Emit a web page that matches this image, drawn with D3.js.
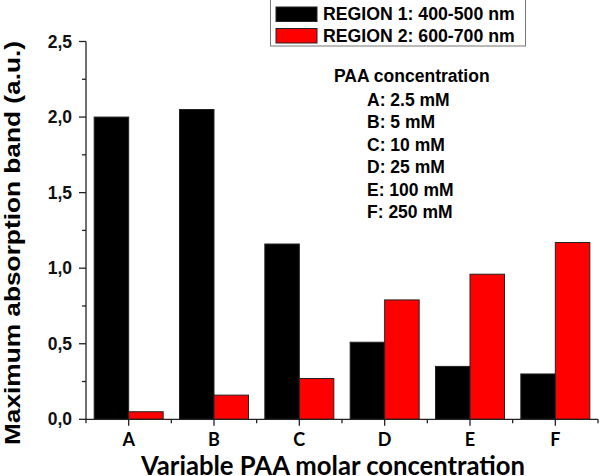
<!DOCTYPE html>
<html><head><meta charset="utf-8">
<script src="https://cdn.jsdelivr.net/npm/d3@7"></script>
<style>body{margin:0;background:#fff}svg{display:block}</style>
</head><body>
<svg id="c" width="600" height="476"></svg>
<script>
const categories = ["A","B","C","D","E","F"];
const seriesNames = ["REGION 1: 400-500 nm","REGION 2: 600-700 nm"];
const region1 = [2.00, 2.05, 1.16, 0.51, 0.35, 0.30];
const region2 = [0.05, 0.16, 0.27, 0.79, 0.96, 1.17];
const yTicks = [0, 0.5, 1.0, 1.5, 2.0, 2.5];
const yTickLabels = ["0,0","0,5","1,0","1,5","2,0","2,5"];
const infoTitle = "PAA concentration";
const infoLines = ["A: 2.5 mM","B: 5 mM","C: 10 mM","D: 25 mM","E: 100 mM","F: 250 mM"];
const colors = ["#000000","#ff0000"];

const svg = d3.select("#c");
const L = 86, R = 598, T = 41.5, B = 419.3;
const x = d3.scaleBand().domain(categories).range([L, R]).paddingInner(0).paddingOuter(0);
const y = d3.scaleLinear().domain([0, 2.5]).range([B, T]);
const step = x.bandwidth();
const groupW = 69;
const xs = d3.scaleBand().domain([0,1]).range([(step-groupW)/2, (step+groupW)/2]);

const data = categories.map((c,i)=>({c, v:[region1[i], region2[i]]}));

// bars
const g = svg.append("g");
data.forEach(d=>{
  d.v.forEach((v,k)=>{
    g.append("rect")
      .attr("x", x(d.c)+xs(k))
      .attr("y", y(v))
      .attr("width", xs.bandwidth())
      .attr("height", y(0)-y(v))
      .attr("fill", colors[k])
      .attr("stroke", "#222").attr("stroke-width", 1);
  });
});

const axCol = "#222";
// x axis
const xa = svg.append("g").attr("transform", `translate(0,${B})`);
xa.append("line").attr("x1", L).attr("x2", R).attr("stroke", axCol).attr("stroke-width", 1.3);
const bounds = categories.map(c=>x(c)).concat([R]);
bounds.forEach(b=>xa.append("line").attr("x1",b).attr("x2",b).attr("y1",0).attr("y2",4).attr("stroke",axCol).attr("stroke-width",1.3));
categories.forEach(c=>{
  const cx = x(c)+step/2;
  xa.append("line").attr("x1",cx).attr("x2",cx).attr("y1",0).attr("y2",6.5).attr("stroke",axCol).attr("stroke-width",1.3);
  xa.append("text").attr("x",cx).attr("y",27).attr("text-anchor","middle")
    .attr("font-family","Lato, 'Open Sans', sans-serif").attr("font-weight","bold").attr("font-size",18).text(c);
});

// y axis
const ya = svg.append("g").attr("transform", `translate(${L},0)`);
ya.append("line").attr("y1", T).attr("y2", B).attr("stroke", axCol).attr("stroke-width", 1.3);
d3.range(0, 2.51, 0.25).forEach(v=>{
  const major = Math.abs(v*2 - Math.round(v*2)) < 1e-6;
  ya.append("line").attr("x1", major?-7:-4).attr("x2",0).attr("y1",y(v)).attr("y2",y(v)).attr("stroke",axCol).attr("stroke-width",1.3);
});
yTicks.forEach((v,i)=>{
  ya.append("text").attr("x",-14).attr("y",y(v)).attr("dy","0.35em").attr("text-anchor","end")
    .attr("font-family","'Liberation Sans', Arial, sans-serif").attr("font-weight","bold").attr("font-size",17.5).attr("fill","#111").text(yTickLabels[i]);
});

// axis titles
svg.append("text").attr("transform","translate(20,243) rotate(-90)").attr("text-anchor","middle")
  .attr("font-family","'Liberation Sans', Arial, sans-serif").attr("font-weight","bold").attr("font-size",22)
  .attr("textLength",404).attr("lengthAdjust","spacingAndGlyphs")
  .text("Maximum absorption band (a.u.)");
svg.append("text").attr("x",333).attr("y",474.5).attr("text-anchor","middle")
  .attr("font-family","Lato, 'Open Sans', sans-serif").attr("font-weight","bold").attr("font-size",26)
  .attr("textLength",384).attr("lengthAdjust","spacingAndGlyphs")
  .text("Variable PAA molar concentration");

// legend
const lg = svg.append("g");
lg.append("rect").attr("x",270.5).attr("y",-0.5).attr("width",255).attr("height",46.5)
  .attr("fill","#fff").attr("stroke","#777").attr("stroke-width",1);
seriesNames.forEach((s,k)=>{
  const yy = k===0 ? 7 : 28.5;
  lg.append("rect").attr("x",276).attr("y",yy).attr("width",41).attr("height",14.5)
    .attr("fill",colors[k]).attr("stroke","#222").attr("stroke-width",1);
  lg.append("text").attr("x",323).attr("y",yy+13.2)
    .attr("font-family","'Liberation Sans', Arial, sans-serif").attr("font-weight","bold").attr("font-size",17.7).text(s);
});

// info text
const it = svg.append("g").attr("font-family","'Liberation Sans', Arial, sans-serif").attr("font-weight","bold").attr("font-size",17.5);
it.append("text").attr("x",334).attr("y",82).text(infoTitle);
infoLines.forEach((t,i)=>{
  it.append("text").attr("x",367).attr("y",106+i*22.4).text(t);
});
</script>
</body></html>
